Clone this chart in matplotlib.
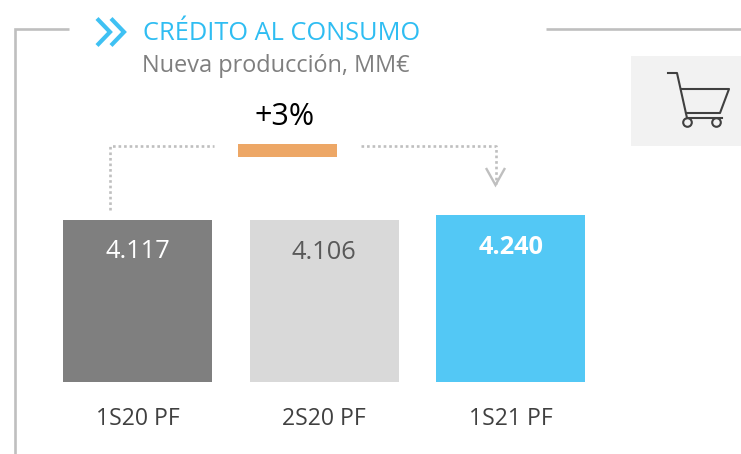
import matplotlib
matplotlib.use('Agg')
import matplotlib.pyplot as plt
from matplotlib.patches import Rectangle, Circle

plt.rcParams['font.family'] = ['Open Sans', 'DejaVu Sans']

categories = ['1S20 PF', '2S20 PF', '1S21 PF']
values = [4117, 4106, 4240]
value_labels = ['4.117', '4.106', '4.240']
bar_colors = ['#7f7f7f', '#d9d9d9', '#53c8f5']
label_colors = ['white', '#595959', 'white']
title = 'CRÉDITO AL CONSUMO'
subtitle = 'Nueva producción, MM€'
growth = '+3%'

W, H = 741, 454
fig = plt.figure(figsize=(W / 100, H / 100), dpi=100)

# overlay in pixel coordinates for the frame, arrow and icon
bg = fig.add_axes([0, 0, 1, 1])
bg.set_xlim(0, W)
bg.set_ylim(H, 0)
bg.axis('off')

# frame
frame = '#bfbfbf'
bg.plot([69, 15, 15], [29, 29, 454], color=frame, lw=1.9, solid_joinstyle='miter', solid_capstyle='butt')
bg.plot([546, 741], [29, 29], color=frame, lw=1.9, solid_capstyle='butt')

# double chevron
chev = '#3fc1f3'
bg.plot([97, 110, 97], [18.5, 32, 45.5], color=chev, lw=3, solid_joinstyle='miter', solid_capstyle='butt')
bg.plot([111, 124, 111], [18.5, 32, 45.5], color=chev, lw=3, solid_joinstyle='miter', solid_capstyle='butt')

bg.text(143, 33, title, color='#2fbdf2', fontsize=18.3, va='center', ha='left')
bg.text(142, 66, subtitle, color='#7f7f7f', fontsize=16.9, va='center', ha='left')
bg.text(285, 117, growth, color='black', fontsize=22, va='center', ha='center')

# growth marker and dotted connectors
bg.add_patch(Rectangle((238, 144), 99, 13, color='#eda766', lw=0))
dots = dict(color='#bfbfbf', lw=1.9, linestyle=(0, (1, 1.1)))
bg.plot([110, 110, 214], [210, 146, 146], **dots)
bg.plot([361, 495.5, 495.5], [146, 146, 184], **dots)
bg.plot([486, 495.5, 505], [168, 185, 168], color='#bfbfbf', lw=1.7, solid_joinstyle='miter', solid_capstyle='butt')

# cart icon
bg.add_patch(Rectangle((631, 56), 110, 90, color='#f2f2f2', lw=0))
cart = '#404040'
bg.plot([668, 677, 687], [73, 73, 118], color=cart, lw=1.5)
bg.plot([681, 729, 720, 686], [89, 89, 113, 113], color=cart, lw=1.5)
bg.plot([687, 722], [118, 118], color=cart, lw=1.5)
bg.add_patch(Circle((687.5, 122.5), 4.3, fill=False, ec=cart, lw=1.5))
bg.add_patch(Circle((716.5, 122.5), 4.3, fill=False, ec=cart, lw=1.5))

# bars
ax = fig.add_axes([63 / W, (H - 382) / H, 522 / W, 167 / H])
ax.patch.set_alpha(0)
positions = range(len(categories))
ax.bar(positions, values, width=0.797, color=bar_colors)
ax.set_xlim(-0.399, 2.397)
ax.set_ylim(0, max(values))
ax.set_yticks([])
ax.set_xticks(list(positions))
ax.set_xticklabels(categories, fontsize=16.6, color='#404040')
ax.tick_params(axis='x', length=0, pad=18)
for s in ax.spines.values():
    s.set_visible(False)

for i, v in enumerate(values):
    ax.text(i, v - 815, value_labels[i], ha='center', va='center',
            color=label_colors[i], fontsize=18.3, fontweight='bold' if i == 2 else 'normal')

fig.savefig('out.png', dpi=100)
